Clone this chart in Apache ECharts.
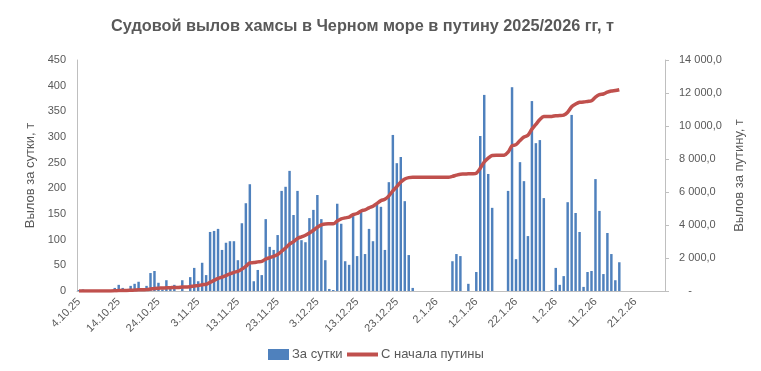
<!DOCTYPE html>
<html><head><meta charset="utf-8">
<script src="https://cdn.jsdelivr.net/npm/echarts@6/dist/echarts.min.js"></script>
<style>html,body{margin:0;padding:0;background:#fff}#c{width:761px;height:371px}</style>
</head><body><div id="c"></div>
<script>
// Categories: daily dates from 4.10.25 through 28.2.26
const dayCount = 148;
const categories = [];
for (let i = 0; i < dayCount; i++) {
  const d = new Date(2025, 9, 4 + i);
  categories.push(d.getDate() + '.' + (d.getMonth() + 1) + '.' + String(d.getFullYear()).slice(2));
}

// Daily catch, t (За сутки)
const dailyCatch = [
  2, 3, 2, null, null, null, null, null, null, 6,
  12, 6, null, 10, 14, 18, null, 10, 35, 39,
  16, 3, 21, 5, 12, null, 21, null, 27, 45,
  19, 55, 31, 115, 117, 121, 80, 94, 97, 97,
  60, 132, 171, 208, 19, 41, 31, 140, 86, 80,
  109, 195, 203, 234, 148, 195, 99, 95, 142, 158,
  187, 140, 60, 4, 2, 170, 131, 58, 51, 146,
  68, 154, 72, 121, 97, 171, 164, 80, 212, 304,
  249, 261, 175, 70, 6, null, null, null, null, null,
  null, null, null, null, 58, 72, 68, null, 14, null,
  37, 302, 382, 228, 162, null, null, null, 195, 397,
  62, 251, 214, 107, 370, 288, 294, 181, null, 2,
  45, 12, 29, 173, 343, 152, 115, 8, 37, 39,
  218, 156, 33, 113, 72, 21, 56, null, null, null,
  null, null, null, null, null, null, null, null
];

// Cumulative catch since season start, t (С начала путины)
const seasonTotal = [
  2, 5, 7, 7, 7, 7, 7, 7, 7, 13,
  25, 31, 31, 41, 55, 73, 73, 83, 118, 157,
  173, 176, 197, 202, 214, 214, 235, 235, 262, 307,
  326, 381, 412, 527, 644, 765, 845, 939, 1036, 1133,
  1193, 1325, 1496, 1704, 1723, 1764, 1795, 1935, 2021, 2101,
  2210, 2405, 2608, 2842, 2990, 3185, 3284, 3379, 3521, 3679,
  3866, 4006, 4066, 4070, 4072, 4242, 4373, 4431, 4482, 4628,
  4696, 4850, 4922, 5043, 5140, 5311, 5475, 5555, 5767, 6071,
  6330, 6600, 6790, 6870, 6890, 6890, 6890, 6890, 6890, 6890,
  6890, 6890, 6890, 6895, 6950, 7020, 7080, 7085, 7100, 7105,
  7140, 7440, 7820, 8050, 8210, 8220, 8220, 8225, 8410, 8800,
  8870, 9120, 9330, 9440, 9810, 10100, 10390, 10570, 10575, 10580,
  10620, 10630, 10660, 10830, 11170, 11330, 11440, 11450, 11490, 11530,
  11750, 11900, 11940, 12050, 12120, 12150, 12200
];

// Axis tick ranges
const leftAxis = { min: 0, max: 450, interval: 50 };
const rightAxis = { min: 0, max: 14000, interval: 2000 };

const txt = '#595959';
const font = 'Liberation Sans';
const chart = echarts.init(document.getElementById('c'));
chart.setOption({
  animation: false,
  textStyle: { fontFamily: font },
  title: {
    text: 'Судовой вылов хамсы в Черном море в путину 2025/2026 гг, т',
    left: 106, top: 14,
    textStyle: { fontFamily: font, fontSize: 16.3, fontWeight: 'bold', color: txt }
  },
  legend: [
    { data: [{ name: 'За сутки', icon: 'rect' }], left: 263, top: 343, itemWidth: 21, itemHeight: 11, itemGap: 4,
      textStyle: { fontFamily: font, fontSize: 13, color: txt, padding: [0, 0, 0, -2] } },
    { data: [{ name: 'С начала путины', icon: 'rect' }], left: 342, top: 343, itemWidth: 31, itemHeight: 4,
      textStyle: { fontFamily: font, fontSize: 13, color: txt, padding: [0, 0, 0, -2] } }
  ],
  grid: { left: 77, right: 96, top: 60, bottom: 80 },
  xAxis: {
    type: 'category', data: categories, boundaryGap: true,
    axisLine: { lineStyle: { color: '#bfbfbf' } },
    axisTick: { show: false },
    axisLabel: { interval: 9, rotate: 45, fontSize: 11, color: txt, fontFamily: font, margin: 9 }
  },
  yAxis: [
    { type: 'value', min: leftAxis.min, max: leftAxis.max, interval: leftAxis.interval,
      name: 'Вылов за сутки, т', nameLocation: 'middle', nameGap: 32, nameRotate: 90,
      nameTextStyle: { fontFamily: font, fontSize: 13, color: txt },
      axisLine: { show: true, lineStyle: { color: '#bfbfbf' } },
      axisTick: { show: false }, splitLine: { show: false },
      axisLabel: { fontSize: 11, color: txt, fontFamily: font, margin: 11 } },
    { type: 'value', min: rightAxis.min, max: rightAxis.max, interval: rightAxis.interval,
      name: 'Вылов за путину, т', nameLocation: 'middle', nameGap: 64, nameRotate: 90,
      nameTextStyle: { fontFamily: font, fontSize: 13, color: txt },
      axisLine: { show: true, lineStyle: { color: '#bfbfbf' } },
      axisTick: { show: true, length: 4, lineStyle: { color: '#bfbfbf' } }, splitLine: { show: false },
      axisLabel: { fontSize: 11, color: txt, fontFamily: font, margin: 14,
        formatter: v => v === 0 ? '   -' : (v / 1000) + ' 000,0' } }
  ],
  series: [
    { name: 'За сутки', type: 'bar', data: dailyCatch, yAxisIndex: 0, barWidth: '62%',
      itemStyle: { color: '#4f81bd' } },
    { name: 'С начала путины', type: 'line', data: seasonTotal, yAxisIndex: 1,
      symbol: 'none', smooth: 0.3, z: 5,
      lineStyle: { color: '#c0504d', width: 3.5 }, itemStyle: { color: '#c0504d' } }
  ]
});
</script>
</body></html>
